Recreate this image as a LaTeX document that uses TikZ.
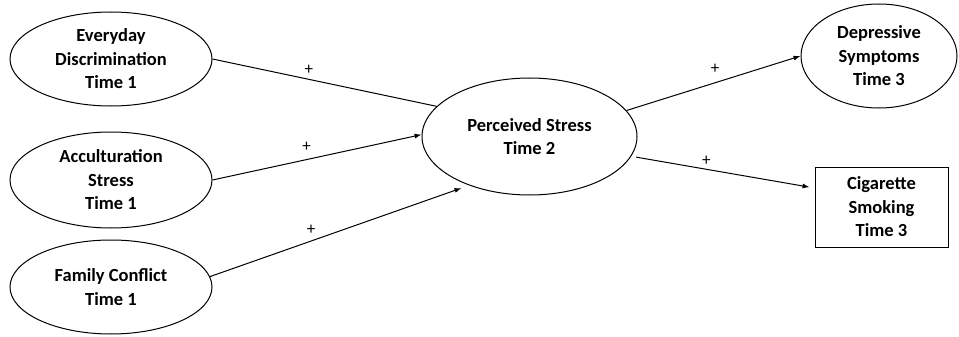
\documentclass[tikz,border=0pt]{standalone}
\usepackage{fontspec}
\setmainfont{Carlito}
\usetikzlibrary{shapes.geometric,arrows.meta,calc}

\tikzset{
  latent/.style={draw, ellipse, line width=1pt, inner sep=0pt, align=center,
    font=\bfseries\fontsize{18.5}{23.5}\selectfont},
  measured/.style={draw, rectangle, line width=1pt, inner sep=0pt, align=center,
    font=\bfseries\fontsize{18.5}{23.5}\selectfont},
  link/.style={line width=1pt},
  effect/.style={link, -{Latex[length=7pt,width=5pt]}},
  plus/.style={font=\fontsize{17}{17}\selectfont, inner sep=0pt, anchor=center}
}

\begin{document}
\begin{tikzpicture}[x=1pt,y=-1pt]
\useasboundingbox (0,0) rectangle (959,337);

% time 1 predictors
\node[latent, minimum width=202pt, minimum height=94pt] (ed) at (111,59) {Everyday\\Discrimination\\Time 1};
\node[latent, minimum width=202pt, minimum height=96pt] (ac) at (111,180) {Acculturation\\Stress\\Time 1};
\node[latent, minimum width=202pt, minimum height=94pt] (fc) at (111,287) {Family Conflict\\Time 1};

% mediator
\node[latent, minimum width=215pt, minimum height=117pt] (ps) at (529.5,136.5) {Perceived Stress\\Time 2};

% time 3 outcomes
\node[latent, minimum width=156pt, minimum height=104pt] (dp) at (879,56) {Depressive\\Symptoms\\Time 3};
\node[measured, minimum width=133pt, minimum height=80pt] (cs) at (881.5,207) {Cigarette\\Smoking\\Time 3};
\coordinate (cs-in) at ([yshift=19pt]cs.west);

\draw[link] (ed.east) -- node[plus, pos=.43, yshift=10pt] (p1) {+} (ps.162);
\draw[effect] (ac.east) -- node[plus, pos=.45, yshift=12.5pt] (p2) {+} (ps.179);
\draw[effect, shorten >=8pt] (fc.6) -- node[plus, pos=.39, yshift=11.5pt] (p3) {+} (ps.219);
\draw[effect] (ps.15) -- node[plus, pos=.51, yshift=14pt] (p4) {+} (dp.west);
\draw[effect, shorten <=5pt, shorten >=5pt] (ps.-11) -- node[plus, pos=.41, yshift=8pt] (p5) {+} (cs-in);
\end{tikzpicture}
\end{document}
